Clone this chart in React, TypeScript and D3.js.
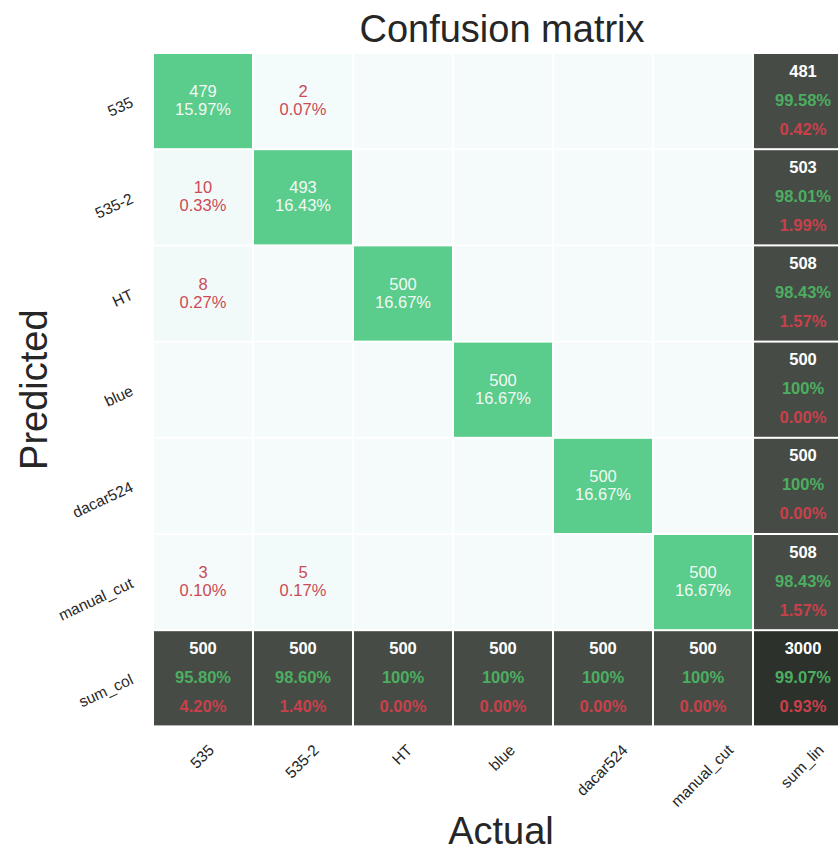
import React from "react";
import * as d3 from "d3";

// Class names (rows = predicted, columns = actual)
const categories = ["535", "535-2", "HT", "blue", "dacar524", "manual_cut"];
const rowTotalLabel = "sum_col";
const colTotalLabel = "sum_lin";

// Counts per predicted row, one value per actual column
const row535 = [479, 2, 0, 0, 0, 0];
const row5352 = [10, 493, 0, 0, 0, 0];
const rowHT = [8, 0, 500, 0, 0, 0];
const rowBlue = [0, 0, 0, 500, 0, 0];
const rowDacar = [0, 0, 0, 0, 500, 0];
const rowManual = [3, 5, 0, 0, 0, 500];
const counts = [row535, row5352, rowHT, rowBlue, rowDacar, rowManual];

const W = 838;
const H = 848;
const FONT = "'Liberation Sans', Arial, Helvetica, sans-serif";

const C = {
  light: "#f5fbfb",
  green: "#5acc8b",
  dark: "#464c45",
  corner: "#2c312b",
  diagText: "#f2f9f4",
  offText: "#cc4a55",
  sumGreen: "#4cae60",
  sumRed: "#c9404b",
  sumWhite: "#ffffff",
  axis: "#262626",
};

// Advance widths (em) of the sans-serif face, for sizing rotated labels
const CHAR_EM: Record<string, number> = {
  "0": 0.556, "1": 0.556, "2": 0.556, "3": 0.556, "4": 0.556, "5": 0.556,
  "6": 0.556, "7": 0.556, "8": 0.556, "9": 0.556,
  "-": 0.333, "_": 0.556,
  a: 0.556, b: 0.556, c: 0.5, d: 0.556, e: 0.556, i: 0.222, l: 0.222,
  m: 0.833, n: 0.556, o: 0.556, r: 0.333, s: 0.5, t: 0.278, u: 0.556,
  H: 0.722, T: 0.611,
};
function textWidth(t: string, size: number): number {
  let em = 0;
  for (const ch of t) em += CHAR_EM[ch] ?? 0.556;
  return em * size;
}

const fmtPct = (v: number) => (v === 100 ? "100%" : `${v.toFixed(2)}%`);

export default function App() {
  const n = categories.length;
  const xLabels = [...categories, colTotalLabel];
  const yLabels = [...categories, rowTotalLabel];

  const x0 = 153;
  const cw = 100;
  const y0 = 53;
  const ch = 96.2;

  const x = d3.scaleBand<string>().domain(xLabels).range([x0, x0 + cw * (n + 1)]);
  const y = d3.scaleBand<string>().domain(yLabels).range([y0, y0 + ch * (n + 1)]);

  const total = d3.sum(counts.flat());
  const rowSums = counts.map((r) => d3.sum(r));
  const colSums = categories.map((_, j) => d3.sum(counts, (r) => r[j]));
  const correct = d3.sum(categories.map((_, i) => counts[i][i]));

  const color = d3
    .scaleLinear<string>()
    .domain([0, 470])
    .range([C.light, C.green])
    .clamp(true);

  const bw = x.bandwidth();
  const bh = y.bandwidth();
  const gap = 1;

  const cells: React.ReactNode[] = [];
  counts.forEach((row, i) => {
    row.forEach((v, j) => {
      const cx = x(xLabels[j])!;
      const cy = y(yLabels[i])!;
      const mid = cy + bh / 2;
      const center = cx + bw / 2;
      const isDiag = i === j;
      cells.push(
        <g key={`c-${i}-${j}`}>
          <rect x={cx + gap} y={cy + gap} width={bw - 2 * gap} height={bh - 2 * gap} fill={color(v)} />
          {v > 0 && (
            <text
              x={center}
              textAnchor="middle"
              fontSize={16.5}
              fill={isDiag ? C.diagText : C.offText}
            >
              <tspan x={center} y={mid - 4}>{v}</tspan>
              <tspan x={center} y={mid + 14}>{fmtPct((v / total) * 100)}</tspan>
            </text>
          )}
        </g>
      );
    });
  });

  // Totals: row totals in the last column, column totals in the last row
  const totals: { key: string; cx: number; cy: number; count: number; good: number; fill: string }[] = [];
  rowSums.forEach((s, i) => {
    totals.push({
      key: `r-${i}`,
      cx: x(colTotalLabel)!,
      cy: y(yLabels[i])!,
      count: s,
      good: (counts[i][i] / s) * 100,
      fill: C.dark,
    });
  });
  colSums.forEach((s, j) => {
    totals.push({
      key: `col-${j}`,
      cx: x(xLabels[j])!,
      cy: y(rowTotalLabel)!,
      count: s,
      good: (counts[j][j] / s) * 100,
      fill: C.dark,
    });
  });
  totals.push({
    key: "all",
    cx: x(colTotalLabel)!,
    cy: y(rowTotalLabel)!,
    count: total,
    good: (correct / total) * 100,
    fill: C.corner,
  });

  const round2 = (v: number) => Math.round(v * 100) / 100;

  const totalCells = totals.map((t) => {
    const center = t.cx + bw / 2;
    const mid = t.cy + bh / 2;
    const g = round2(t.good);
    const bad = round2(100 - g);
    return (
      <g key={t.key}>
        <rect x={t.cx + gap} y={t.cy + gap} width={bw - 2 * gap} height={bh - 2 * gap} fill={t.fill} />
        <text textAnchor="middle" fontSize={16.5} fontWeight="bold">
          <tspan x={center} y={mid - 24.5} fill={C.sumWhite}>{t.count}</tspan>
          <tspan x={center} y={mid + 4.5} fill={C.sumGreen}>{fmtPct(g)}</tspan>
          <tspan x={center} y={mid + 33.5} fill={C.sumRed}>{fmtPct(bad)}</tspan>
        </text>
      </g>
    );
  });

  const tickFont = 15.5;
  const gridBottom = y0 + ch * (n + 1);

  // x tick labels: rotated 45°, box centred on the column, top edge just below the grid
  const xTicks = xLabels.map((l) => {
    const w = textWidth(l, tickFont);
    const s = Math.SQRT1_2;
    const cx = x(l)! + bw / 2 - 1;
    const cy = gridBottom + 17 + ((w + 11) * s) / 2;
    return (
      <text
        key={`xt-${l}`}
        transform={`translate(${cx},${cy}) rotate(-45)`}
        textAnchor="middle"
        dy="0.35em"
        fontSize={tickFont}
        fill={C.axis}
      >
        {l}
      </text>
    );
  });

  const yTicks = yLabels.map((l) => {
    const cy = y(l)! + bh / 2;
    return (
      <text
        key={`yt-${l}`}
        transform={`translate(132,${cy}) rotate(-25)`}
        textAnchor="end"
        dy="0.35em"
        fontSize={tickFont}
        fill={C.axis}
      >
        {l}
      </text>
    );
  });

  const gridCenterX = x0 + (cw * (n + 1)) / 2;
  const gridCenterY = y0 + (ch * (n + 1)) / 2;

  return (
    <svg
      width={W}
      height={H}
      viewBox={`0 0 ${W} ${H}`}
      style={{ position: "absolute", left: 0, top: 0, display: "block", overflow: "hidden", background: "#ffffff" }}
      fontFamily={FONT}
    >
      <rect x={0} y={0} width={W} height={H} fill="#ffffff" />
      {cells}
      {totalCells}
      {xTicks}
      {yTicks}
      <text x={gridCenterX - 1} y={42} textAnchor="middle" fontSize={38} fill={C.axis}>
        Confusion matrix
      </text>
      <text x={gridCenterX - 2} y={844} textAnchor="middle" fontSize={38} fill={C.axis}>
        Actual
      </text>
      <text
        transform={`translate(47,${gridCenterY}) rotate(-90)`}
        textAnchor="middle"
        fontSize={38}
        fill={C.axis}
      >
        Predicted
      </text>
    </svg>
  );
}
